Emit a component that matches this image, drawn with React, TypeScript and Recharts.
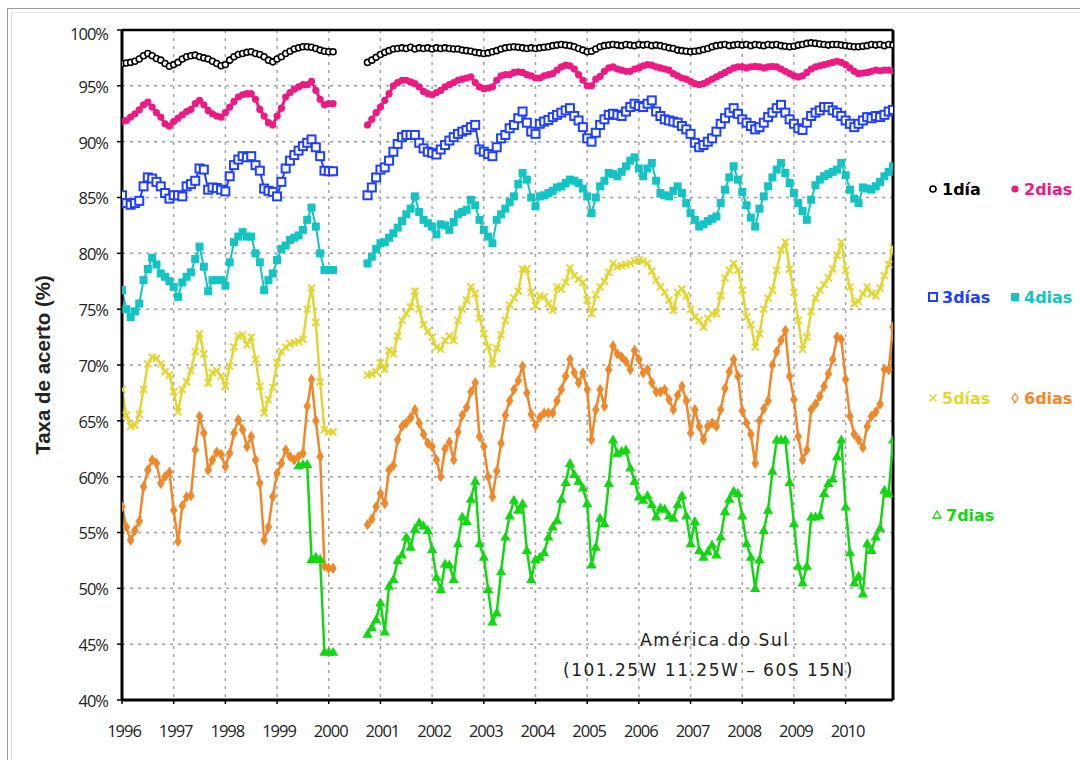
import React from 'react';
import { LineChart, Line, XAxis, YAxis, CartesianGrid, ReferenceLine } from 'recharts';

// Monthly series: segment A = Jan 1996 .. Feb 2000 (months 0..49), segment B = Oct 2000 .. Dec 2010 (months 57..179)
const SEG_A_START = 0;
const SEG_B_START = 57;
const LAST_MONTH = 179;
const FIRST_YEAR = 1996;

const dia1A = [
  97.0, 97.05, 97.1, 97.2, 97.4, 97.7, 97.9, 97.7, 97.45, 97.3,
  97.0, 96.75, 96.9, 97.1, 97.4, 97.6, 97.7, 97.75, 97.6, 97.5,
  97.4, 97.2, 97.0, 96.8, 96.9, 97.3, 97.6, 97.8, 97.9, 98.0,
  98.05, 97.9, 97.8, 97.6, 97.3, 97.15, 97.4, 97.6, 97.9, 98.1,
  98.3, 98.4, 98.5, 98.5, 98.45, 98.35, 98.2, 98.1, 98.05, 98.05,
];
const dia1B = [
  97.1, 97.3, 97.55, 97.8, 98.0, 98.15, 98.3, 98.35, 98.4, 98.35,
  98.45, 98.3, 98.4, 98.35, 98.4, 98.3, 98.4, 98.35, 98.4, 98.35,
  98.3, 98.3, 98.2, 98.15, 98.1, 98.0, 97.95, 97.9, 97.95, 98.05,
  98.15, 98.3, 98.4, 98.45, 98.5, 98.45, 98.4, 98.35, 98.4, 98.35,
  98.4, 98.45, 98.5, 98.6, 98.65, 98.7, 98.65, 98.6, 98.5, 98.35,
  98.2, 98.05, 98.1, 98.3, 98.5, 98.6, 98.65, 98.7, 98.65, 98.6,
  98.7, 98.65, 98.6, 98.7, 98.65, 98.7, 98.6, 98.65, 98.6, 98.5,
  98.4, 98.35, 98.2, 98.15, 98.1, 98.05, 98.1, 98.15, 98.25, 98.35,
  98.5, 98.6, 98.65, 98.7, 98.6, 98.65, 98.7, 98.65, 98.7, 98.6,
  98.7, 98.65, 98.6, 98.7, 98.65, 98.7, 98.6, 98.55, 98.5, 98.55,
  98.65, 98.7, 98.8, 98.85, 98.8, 98.75, 98.7, 98.65, 98.7, 98.7,
  98.65, 98.6, 98.55, 98.5, 98.5, 98.55, 98.6, 98.7, 98.65, 98.7,
  98.6, 98.7, 98.65,
];

const dias2A = [
  91.8, 91.9, 92.2, 92.5, 92.85, 93.3, 93.55, 93.1, 92.6, 92.2,
  91.6, 91.4, 91.8, 92.1, 92.4, 92.7, 92.9, 93.4, 93.7, 93.3,
  92.8, 92.5, 92.3, 92.2, 92.6, 93.1, 93.6, 94.0, 94.2, 94.3,
  94.3, 93.8, 92.9, 92.3, 91.7, 91.5, 92.3, 93.0, 94.0, 94.4,
  94.7, 94.9, 95.1, 95.1, 95.4, 94.6, 93.8, 93.3, 93.4, 93.4,
];
const dias2B = [
  91.5, 92.0, 92.6, 93.1, 93.7, 94.3, 95.0, 95.3, 95.5, 95.5,
  95.35, 95.2, 94.9, 94.5, 94.3, 94.2, 94.4, 94.6, 94.9, 95.1,
  95.3, 95.5, 95.6, 95.7, 95.8, 95.3, 94.9, 94.75, 94.8, 94.9,
  95.5, 95.9, 96.0, 96.0, 96.2, 96.25, 96.2, 96.0, 95.9, 95.7,
  95.7, 95.9, 96.0, 96.1, 96.4, 96.7, 96.85, 96.8, 96.5, 96.0,
  95.5, 95.0, 95.0, 95.6, 95.85, 96.3, 96.6, 96.7, 96.5, 96.4,
  96.3, 96.3, 96.5, 96.6, 96.8, 96.9, 96.85, 96.7, 96.6, 96.5,
  96.4, 96.1, 95.9, 95.7, 95.6, 95.4, 95.2, 95.1, 95.2, 95.4,
  95.6, 95.8, 96.0, 96.2, 96.4, 96.6, 96.7, 96.7, 96.6, 96.7,
  96.75, 96.7, 96.6, 96.7, 96.75, 96.7, 96.5, 96.3, 96.1, 95.9,
  95.8, 95.9, 96.2, 96.5, 96.7, 96.8, 96.9, 97.0, 97.1, 97.2,
  97.1, 96.9, 96.6, 96.3, 96.1, 96.15, 96.2, 96.3, 96.4, 96.35,
  96.4, 96.4, 96.35,
];

const dias3A = [
  85.2, 84.5, 84.35, 84.5, 84.7, 86.0, 86.8, 86.7, 86.4, 86.0,
  85.4, 84.9, 85.2, 85.2, 85.1, 86.0, 86.2, 86.5, 87.6, 87.5,
  85.7, 85.9, 85.85, 85.7, 85.55, 86.9, 87.9, 88.4, 88.7, 88.6,
  88.7, 87.9, 87.4, 85.8, 85.6, 85.5, 85.1, 86.4, 87.6, 88.3,
  88.8, 89.2, 89.6, 89.9, 90.2, 89.5, 88.7, 87.4, 87.35, 87.35,
];
const dias3B = [
  85.2, 85.9, 86.8, 87.5, 87.7, 88.3, 89.1, 89.8, 90.4, 90.6,
  90.6, 90.6, 89.9, 89.4, 89.1, 89.0, 88.85, 89.3, 89.7, 90.1,
  90.4, 90.7, 90.9, 91.05, 91.3, 91.5, 89.3, 89.1, 88.9, 88.7,
  89.5, 90.3, 90.6, 91.2, 91.5, 92.1, 92.7, 91.7, 90.9, 90.7,
  91.6, 91.8, 91.95, 92.2, 92.4, 92.6, 92.8, 93.0, 92.3, 91.9,
  91.3, 90.3, 90.0, 90.8, 91.5, 92.0, 92.4, 92.5, 92.4, 92.3,
  92.7, 93.1, 93.4, 93.2, 93.1, 93.4, 93.7, 92.7, 92.3, 92.0,
  91.9, 91.8, 91.7, 91.4, 91.1, 90.7, 89.9, 89.5, 89.7, 90.0,
  90.3, 90.9, 91.6, 92.1, 92.6, 93.0, 92.5, 92.0, 91.7, 91.4,
  91.1, 91.3, 91.7, 92.2, 92.6, 93.0, 93.3, 92.6, 92.0, 91.6,
  91.2, 91.05, 91.7, 92.3, 92.6, 92.8, 93.1, 93.1, 92.8, 92.6,
  92.3, 91.9, 91.6, 91.3, 91.6, 91.9, 92.2, 92.1, 92.3, 92.2,
  92.4, 92.7, 92.85,
];

const dias4A = [
  76.7, 75.0, 74.3, 74.8, 75.5, 77.6, 78.6, 79.6, 79.0, 78.2,
  77.9, 77.5, 77.0, 76.1, 77.4, 77.9, 78.3, 79.5, 80.6, 78.8,
  76.6, 77.6, 77.6, 77.6, 77.1, 79.2, 81.0, 81.5, 81.9, 81.5,
  81.5, 80.0, 79.2, 76.7, 77.6, 78.2, 79.4, 80.4, 80.7, 81.2,
  81.4, 81.6, 82.1, 83.0, 84.1, 82.4, 80.0, 78.5, 78.5, 78.5,
];
const dias4B = [
  79.1, 79.7, 80.4, 80.9, 81.0, 81.4, 81.8, 82.3, 82.9, 83.5,
  84.0, 85.1, 83.7, 83.0, 82.7, 82.4, 81.7, 82.6, 82.5, 82.1,
  82.8, 83.5, 83.7, 83.9, 84.8, 84.3, 83.0, 82.1, 81.5, 80.9,
  83.0, 83.5, 84.0, 84.6, 85.1, 86.2, 87.2, 86.6, 85.0, 84.2,
  85.1, 85.2, 85.4, 85.6, 85.9, 86.0, 86.3, 86.6, 86.5, 86.3,
  85.8, 85.1, 83.6, 85.0, 86.0, 86.5, 87.2, 87.1, 86.9, 87.3,
  87.8, 88.3, 88.6, 87.6, 86.9, 87.6, 88.1, 86.5, 85.4, 85.2,
  85.1, 85.6, 86.0, 85.4, 84.5, 83.6, 83.0, 82.4, 82.6, 82.9,
  83.1, 83.3, 84.5, 85.7, 86.8, 87.8, 86.6, 85.5, 84.3, 83.2,
  82.4, 84.0, 85.1, 86.0, 86.8, 87.5, 88.1, 87.2, 86.3, 85.4,
  84.5, 83.8, 83.0, 84.8, 86.1, 86.6, 86.9, 87.1, 87.3, 87.5,
  88.1, 87.0, 85.7, 84.9, 84.5, 85.9, 85.8, 85.7, 86.0, 86.4,
  86.9, 87.3, 87.8,
];

const dias5A = [
  67.8, 65.5, 64.5, 64.6, 65.6, 67.8, 70.1, 70.7, 70.6, 70.1,
  69.4, 69.1, 67.6, 65.8, 67.8, 68.5, 69.5, 71.2, 72.8, 71.0,
  68.4, 69.3, 69.5, 69.0, 68.1, 69.9, 71.6, 72.6, 72.7, 71.8,
  72.5, 70.5, 68.1, 65.7, 66.9, 68.0, 70.2, 71.2, 71.6, 71.9,
  72.0, 72.1, 72.3, 75.0, 76.9, 73.8, 68.5, 64.2, 64.0, 64.0,
];
const dias5B = [
  69.1, 69.2, 69.4, 70.2, 69.6, 71.3, 71.0, 72.6, 74.0, 74.6,
  75.2, 76.6, 75.0, 73.6, 73.0, 72.5, 71.6, 71.4, 72.2, 72.6,
  72.2, 74.0, 75.0, 75.8, 77.0, 76.4, 74.2, 72.8, 71.6, 70.1,
  71.5, 72.7, 74.0, 75.4, 76.0, 76.6, 78.6, 78.6, 76.5, 75.3,
  76.2, 76.1, 75.5, 74.9, 77.0, 76.8, 77.4, 78.7, 78.0, 77.7,
  77.4, 75.8, 74.6, 76.3, 77.0, 77.5, 78.3, 79.1, 78.8, 78.9,
  79.0, 79.1, 79.3, 79.4, 79.3, 79.1, 78.4, 77.6, 77.0, 76.5,
  75.8, 74.9, 76.5, 76.8, 76.2, 75.0, 74.3, 74.0, 73.4, 74.2,
  74.6, 74.6, 76.2, 77.8, 78.5, 79.1, 78.5, 76.7, 74.3, 73.6,
  71.6, 72.8, 75.0, 76.0, 76.7, 78.5, 80.3, 81.0, 78.6, 76.5,
  74.0, 71.4, 72.5, 74.8, 76.0, 76.7, 77.2, 77.8, 78.6, 79.8,
  81.0, 78.5, 77.0, 75.5, 75.7, 76.4, 77.0, 76.4, 76.2, 76.9,
  78.0, 79.0, 80.5,
];

const dias6A = [
  57.3, 55.5, 54.3, 55.2, 56.0, 59.1, 60.6, 61.5, 61.2, 59.4,
  60.0, 60.4, 57.0, 54.2, 57.4, 58.2, 58.3, 62.4, 65.4, 63.9,
  60.6, 61.5, 62.2, 62.0, 60.9, 62.1, 63.9, 65.1, 64.2, 62.7,
  63.6, 61.5, 59.4, 54.3, 55.5, 58.2, 60.3, 61.2, 62.4, 61.8,
  61.5, 61.8, 62.1, 66.3, 68.7, 65.0, 61.8, 52.0, 51.8, 51.8,
];
const dias6B = [
  55.7, 56.2, 57.3, 58.5, 57.6, 60.6, 61.0, 63.3, 64.5, 64.8,
  65.3, 66.0, 64.8, 63.8, 63.0, 62.7, 61.5, 60.0, 62.5, 63.1,
  61.5, 64.0, 65.5, 66.2, 67.6, 68.4, 63.6, 62.7, 60.0, 58.2,
  60.5, 63.0, 65.5, 66.8, 67.8, 68.6, 69.9, 67.5, 65.6, 64.6,
  65.3, 65.7, 65.7, 65.7, 66.8, 67.8, 69.0, 70.5, 69.3, 68.4,
  69.3, 67.8, 63.3, 66.0, 67.8, 66.3, 69.6, 71.7, 71.0, 70.7,
  70.3, 69.6, 71.3, 70.5, 69.3, 69.6, 68.4, 67.6, 67.6, 67.8,
  66.9, 66.0, 67.3, 68.1, 66.8, 63.9, 66.0, 64.5, 63.3, 64.5,
  64.8, 64.5, 66.0, 67.9, 69.4, 70.5, 69.0, 65.9, 64.8, 63.8,
  61.2, 65.0, 66.1, 66.8, 70.0, 71.2, 72.2, 73.1, 69.0, 66.9,
  63.6, 61.5, 62.4, 66.0, 66.5, 67.2, 68.1, 69.2, 70.5, 72.5,
  72.3, 68.7, 65.4, 63.8, 63.3, 62.6, 64.5, 65.4, 65.8, 66.5,
  69.6, 69.6, 73.4,
];

const DIAS7_A_START = 41;
const dias7A = [61.0, 61.1, 61.1, 52.6, 52.8, 52.6, 44.3, 44.3, 44.3];
const dias7B = [
  45.9, 46.5, 47.2, 48.7, 46.1, 50.2, 50.8, 52.5, 53.0, 54.6,
  53.7, 55.3, 55.9, 55.6, 55.2, 53.5, 51.0, 49.9, 52.2, 52.1,
  50.8, 54.0, 56.4, 56.0, 58.0, 59.6, 54.0, 52.8, 49.9, 47.0,
  47.8, 51.5, 54.6, 56.5, 57.9, 57.0, 57.6, 53.4, 50.8, 52.6,
  52.8, 53.2, 54.6, 55.5, 56.1, 58.0, 59.5, 61.2, 60.2, 59.6,
  59.0, 57.6, 52.1, 53.7, 56.3, 55.8, 59.4, 63.3, 62.1, 62.3,
  62.4, 60.8, 59.6, 58.2, 57.9, 58.3, 57.5, 56.4, 57.2, 57.1,
  56.5, 56.3, 57.5, 58.3, 56.5, 54.0, 56.0, 53.4, 52.8, 53.3,
  53.9, 53.0, 54.6, 56.9, 58.0, 58.7, 58.5, 56.5, 54.0, 52.8,
  50.0, 52.6, 55.2, 57.0, 60.5, 63.3, 63.3, 63.3, 59.5, 55.8,
  52.0, 50.5, 52.0, 56.4, 56.4, 56.5, 58.5, 59.4, 59.8, 61.8,
  63.3, 57.3, 53.2, 50.5, 51.1, 49.5, 54.0, 53.4, 54.6, 55.4,
  58.8, 58.5, 63.3,
];

const yearLabels = [1996, 1997, 1998, 1999, 2000, 2001, 2002, 2003, 2004, 2005, 2006, 2007, 2008, 2009, 2010];
const yTicks = [40, 45, 50, 55, 60, 65, 70, 75, 80, 85, 90, 95, 100];

type SeriesDef = { key: string; label: string; color: string; shape: string; width: number; a: number[]; aStart: number; b: number[] };

const series: SeriesDef[] = [
  { key: 's1', label: '1día', color: '#000000', shape: 'circleOpen', width: 2, a: dia1A, aStart: SEG_A_START, b: dia1B },
  { key: 's2', label: '2dias', color: '#ee1a83', shape: 'circleFilled', width: 3, a: dias2A, aStart: SEG_A_START, b: dias2B },
  { key: 's3', label: '3días', color: '#2040ff', shape: 'squareOpen', width: 2, a: dias3A, aStart: SEG_A_START, b: dias3B },
  { key: 's4', label: '4dias', color: '#12c4c4', shape: 'squareFilled', width: 2, a: dias4A, aStart: SEG_A_START, b: dias4B },
  { key: 's5', label: '5días', color: '#e3d632', shape: 'cross', width: 2.5, a: dias5A, aStart: SEG_A_START, b: dias5B },
  { key: 's6', label: '6dias', color: '#f0882a', shape: 'diamond', width: 2.5, a: dias6A, aStart: SEG_A_START, b: dias6B },
  { key: 's7', label: '7dias', color: '#12d812', shape: 'triangle', width: 2.5, a: dias7A, aStart: DIAS7_A_START, b: dias7B },
];

const data: any[] = [];
for (let m = 0; m <= LAST_MONTH; m++) {
  const row: any = { m };
  for (const s of series) {
    let v: number | null = null;
    const ia = m - s.aStart;
    if (ia >= 0 && ia < s.a.length) v = s.a[ia];
    const ib = m - SEG_B_START;
    if (ib >= 0 && ib < s.b.length) v = s.b[ib];
    row[s.key] = v;
  }
  data.push(row);
}

const xTicks = yearLabels.map((y) => (y - FIRST_YEAR) * 12);

function drawMarker(shape: string, color: string, cx: number, cy: number, key: string, legend = false) {
  switch (shape) {
    case 'circleOpen':
      return <circle key={key} cx={cx} cy={cy} r={3} fill="#fff" stroke={color} strokeWidth={1.6} />;
    case 'circleFilled':
      return <circle key={key} cx={cx} cy={cy} r={3.6} fill={color} />;
    case 'squareOpen':
      return <rect key={key} x={cx - 4} y={cy - 4} width={8} height={8} fill="#fff" stroke={color} strokeWidth={2} />;
    case 'squareFilled':
      return <rect key={key} x={cx - 4} y={cy - 4} width={8} height={8} fill={color} />;
    case 'cross':
      return (
        <path key={key} d={`M${cx - 3.5},${cy - 3.5}L${cx + 3.5},${cy + 3.5}M${cx + 3.5},${cy - 3.5}L${cx - 3.5},${cy + 3.5}`}
          stroke={color} strokeWidth={legend ? 1.5 : 2} fill="none" />
      );
    case 'diamond':
      return (
        <path key={key} d={`M${cx},${cy - 4.5}L${cx + 3},${cy}L${cx},${cy + 4.5}L${cx - 3},${cy}Z`}
          fill={legend ? '#fff' : color} stroke={color} strokeWidth={1.3} />
      );
    case 'triangle':
      return (
        <path key={key} d={`M${cx},${cy - 4}L${cx + 4},${cy + 3}L${cx - 4},${cy + 3}Z`}
          fill={legend ? '#fff' : color} stroke={color} strokeWidth={1.3} />
      );
    default:
      return <g key={key} />;
  }
}

const makeDot = (shape: string, color: string) => (props: any) => {
  const { cx, cy, index, value } = props;
  const key = `${shape}-${index}`;
  if (cx == null || cy == null || value == null || Number.isNaN(cy)) return <g key={key} />;
  return drawMarker(shape, color, cx, cy, key);
};

const XTick = (props: any) => {
  const { x, payload } = props;
  return (
    <text x={x + 2} y={737} textAnchor="middle" fontFamily="'Open Sans', sans-serif" fontSize={16.5} letterSpacing={-1} fill="#222">
      {FIRST_YEAR + payload.value / 12}
    </text>
  );
};

const YTick = (props: any) => {
  const { x, y, payload } = props;
  const dy = payload.value === 100 ? 4 : 1;
  return (
    <text x={x} y={y + dy} dy="0.355em" textAnchor="end" fontFamily="'Open Sans', sans-serif" fontSize={16.5} letterSpacing={-1} fill="#222">
      {`${payload.value}%`}
    </text>
  );
};

const legendItems = [
  { s: 0, x: 933, y: 189 },
  { s: 1, x: 1015, y: 189 },
  { s: 2, x: 933, y: 297 },
  { s: 3, x: 1015, y: 297 },
  { s: 4, x: 933, y: 398 },
  { s: 5, x: 1015, y: 398 },
  { s: 6, x: 937, y: 515 },
];

export default function App() {
  return (
    <div style={{ position: 'absolute', left: 0, top: 0, width: 1080, height: 760, background: '#fff', overflow: 'hidden' }}>
      <LineChart width={1080} height={760} data={data} margin={{ top: 30, right: 187, bottom: 30, left: 62 }}>
        <CartesianGrid stroke="#a0a0a0" strokeDasharray="3 5" strokeWidth={1.5} />
        <XAxis
          dataKey="m"
          type="number"
          domain={[0, LAST_MONTH]}
          ticks={xTicks}
          tick={<XTick />}
          height={30}
          axisLine={{ stroke: '#000', strokeWidth: 3 }}
          tickLine={{ stroke: '#000', strokeWidth: 1.5 }}
          tickSize={4}
          interval={0}
          allowDataOverflow
        />
        <YAxis
          type="number"
          domain={[40, 100]}
          ticks={yTicks}
          tick={<YTick />}
          width={60}
          axisLine={{ stroke: '#000', strokeWidth: 3 }}
          tickLine={{ stroke: '#000', strokeWidth: 1.5 }}
          tickSize={5}
          tickMargin={9}
          interval={0}
          allowDataOverflow
        />
        <ReferenceLine y={100} stroke="#000" strokeWidth={2.5} />
        <ReferenceLine x={LAST_MONTH} stroke="#000" strokeWidth={3} />
        {series.map((s) => (
          <Line
            key={s.key}
            dataKey={s.key}
            type="linear"
            stroke={s.color}
            strokeWidth={s.width}
            dot={makeDot(s.shape, s.color)}
            activeDot={false}
            connectNulls={false}
            isAnimationActive={false}
          />
        ))}
      </LineChart>
      <svg width={1080} height={760} style={{ position: 'absolute', left: 0, top: 0, pointerEvents: 'none' }}>
        <line x1={7.5} y1={8} x2={7.5} y2={760} stroke="#9a9a9a" strokeWidth={1} />
        <line x1={7} y1={8.5} x2={1080} y2={8.5} stroke="#9a9a9a" strokeWidth={1} />
        <line x1={11.5} y1={12} x2={11.5} y2={760} stroke="#e2e2e2" strokeWidth={1} />
        <line x1={11} y1={12.5} x2={1080} y2={12.5} stroke="#e2e2e2" strokeWidth={1} />
        <text transform="translate(50,365) rotate(-90)" textAnchor="middle" fontFamily="'Liberation Sans', Arial, sans-serif"
          fontWeight="bold" fontSize={20.5} fill="#222">
          Taxa de acerto (%)
        </text>
        <text x={640} y={646} fontFamily="'DejaVu Sans', sans-serif" fontSize={17} letterSpacing={1.5} fill="#222">
          América do Sul
        </text>
        <text x={563} y={676} fontFamily="'DejaVu Sans', sans-serif" fontSize={17} letterSpacing={1.5} fill="#222">
          (101.25W 11.25W – 60S 15N)
        </text>
        {legendItems.map((it) => {
          const s = series[it.s];
          return (
            <g key={s.key}>
              {drawMarker(s.shape, s.color, it.x, it.y, `lg-${s.key}`, true)}
              <text x={it.x + 9} y={it.y + 6} fontFamily="'DejaVu Sans', sans-serif" fontWeight="bold" fontSize={16} fill={s.color}>
                {s.label}
              </text>
            </g>
          );
        })}
      </svg>
    </div>
  );
}
